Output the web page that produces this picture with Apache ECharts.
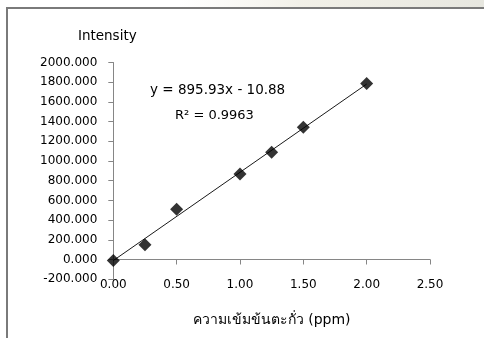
<!DOCTYPE html>
<html>
<head>
<meta charset="utf-8">
<script src="https://cdn.jsdelivr.net/npm/echarts@6/dist/echarts.min.js"></script>
<style>
  html, body { margin: 0; padding: 0; background: #ffffff; }
  #chart { width: 484px; height: 338px; }
</style>
</head>
<body>
<div id="chart"></div>
<script>
// Lead concentration (ppm) vs. measured intensity
const concentration = [0, 0.25, 0.5, 1.0, 1.25, 1.5, 2.0];
const intensity = [-10, 150, 510, 868, 1088, 1342, 1788];

// Linear fit shown on the chart
const slope = 895.93;
const intercept = -10.88;
const fitRange = [0, 2.0];
const fitLabel = 'y = 895.93x - 10.88';
const r2Label = 'R\u00b2 = 0.9963';

const xTitle = 'ความเข้มข้นตะกั่ว (ppm)';
const yTitle = 'Intensity';

const points = concentration.map((x, i) => [x, intensity[i]]);
const fitLine = fitRange.map(x => [x, slope * x + intercept]);

const FONT = '"DejaVu Sans", Verdana, sans-serif';
const chart = echarts.init(document.getElementById('chart'), null, { renderer: 'canvas' });

chart.setOption({
  animation: false,
  backgroundColor: '#ffffff',
  grid: {
    left: 113.3, right: 54, top: 62.5, bottom: 58.8,
    containLabel: false, outerBoundsMode: 'none'
  },
  xAxis: {
    type: 'value',
    min: 0, max: 2.5, interval: 0.5,
    axisLine: { show: true, onZero: true, lineStyle: { color: '#868686', width: 1 } },
    axisTick: { show: true, inside: false, length: 5, lineStyle: { color: '#868686' } },
    axisLabel: {
      margin: 0, color: '#000', fontFamily: FONT, fontSize: 12,
      formatter: v => v.toFixed(2)
    },
    splitLine: { show: false },
    name: xTitle,
    nameLocation: 'middle',
    nameGap: 34,
    nameTextStyle: { color: '#000', fontSize: 14, fontFamily: FONT }
  },
  yAxis: {
    type: 'value',
    min: -200, max: 2000, interval: 200,
    axisLine: { show: true, lineStyle: { color: '#868686', width: 1 } },
    axisTick: { show: true, inside: false, length: 5, lineStyle: { color: '#868686' } },
    axisLabel: {
      margin: 16, color: '#000', fontFamily: FONT, fontSize: 12,
      formatter: v => v.toFixed(3)
    },
    splitLine: { show: false },
    name: yTitle,
    nameLocation: 'end',
    nameGap: 19,
    nameTextStyle: { color: '#000', fontSize: 13.5, fontFamily: FONT, align: 'center', padding: [0, 12, 0, 0] }
  },
  series: [
    {
      type: 'line',
      data: fitLine,
      symbol: 'none',
      lineStyle: { color: '#1a1a1a', width: 1 },
      z: 2
    },
    {
      type: 'scatter',
      data: points,
      symbol: 'diamond',
      symbolSize: 13,
      itemStyle: { color: '#000000' },
      z: 3
    }
  ],
  graphic: [
    {
      type: 'rect', silent: true,
      shape: { x: 180, y: 0, width: 304, height: 7 },
      style: {
        fill: new echarts.graphic.LinearGradient(0, 0, 1, 0, [
          { offset: 0, color: 'rgba(240,238,228,0)' },
          { offset: 0.4, color: 'rgba(236,234,222,0.7)' },
          { offset: 1, color: 'rgba(228,228,220,0.9)' }
        ])
      }
    },
    {
      type: 'polyline', silent: true,
      shape: { points: [[7, 338], [7, 8], [484, 8]] },
      style: { stroke: '#7a7a7a', lineWidth: 2, fill: null }
    },
    {
      type: 'text', left: 150, top: 83,
      style: { text: fitLabel, fill: '#000', font: '13.5px ' + FONT }
    },
    {
      type: 'text', left: 175, top: 109,
      style: { text: r2Label, fill: '#000', font: '13px ' + FONT }
    }
  ]
});
</script>
</body>
</html>
